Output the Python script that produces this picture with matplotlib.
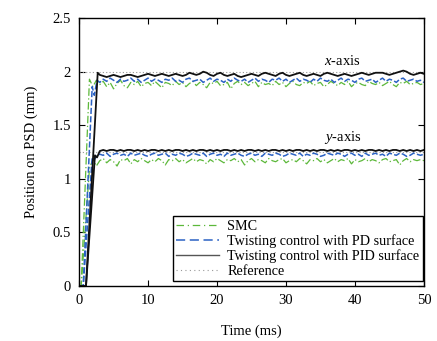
import numpy as np
import matplotlib
matplotlib.use("Agg")
import matplotlib.pyplot as plt

plt.rcParams['font.family'] = ['Liberation Serif', 'DejaVu Serif']
plt.rcParams['mathtext.fontset'] = 'custom'
plt.rcParams['mathtext.rm'] = 'Liberation Serif'
plt.rcParams['mathtext.it'] = 'Liberation Serif:italic'

# steady-state time grid (ms)
t_ss = np.arange(3.0, 50.01, 0.5)

# rise portions (time, value)
t_rise_smc = [0.0, 0.3, 1.5, 2.0, 2.5]
smc_x_rise = [0.0, 0.0, 1.93, 1.86, 1.92]
smc_y_rise = [0.0, 0.0, 1.10, 1.18, 1.12]
t_rise_pd = [0.0, 0.6, 1.9, 2.2, 2.6]
pd_x_rise = [0.0, 0.0, 1.86, 1.78, 1.92]
pd_y_rise = [0.0, 0.0, 1.20, 1.18, 1.22]
t_rise_pid = [0.0, 1.0, 2.7]
pid_x_rise = [0.0, 0.0, 1.99]
t_rise_pid_y = [0.0, 1.0, 2.3, 2.6]
pid_y_rise = [0.0, 0.0, 1.22, 1.20]

pid_x = [1.97, 1.96, 1.95, 1.96, 1.97, 1.96, 1.95, 1.96, 1.97, 1.97, 1.96,
         1.95, 1.96, 1.97, 1.98, 1.97, 1.96, 1.97, 1.98, 1.97, 1.96,
         1.97, 1.98, 1.97, 1.96, 1.97, 1.99, 1.98, 1.97, 1.98, 2.00,
         1.99, 1.97, 1.96, 1.98, 1.99, 1.97, 1.96, 1.97, 1.98, 1.96,
         1.95, 1.96, 1.97, 1.98, 1.97, 1.96, 1.98, 1.99, 1.98, 1.97,
         1.96, 1.98, 1.99, 1.97, 1.96, 1.97, 1.98, 1.99, 1.97, 1.96,
         1.97, 1.98, 1.97, 1.96, 1.98, 1.99, 1.98, 1.97, 1.96, 1.97,
         1.98, 1.97, 1.96, 1.97, 1.98, 1.99, 1.98, 1.97, 1.98, 1.99,
         1.99, 1.99, 1.98, 1.97, 1.98, 1.99, 2.00, 2.01, 2.00, 1.98,
         1.97, 1.98, 1.99, 1.98]

pd_x = [1.90, 1.93, 1.91, 1.94, 1.92, 1.90, 1.93, 1.91, 1.92, 1.94, 1.91,
        1.93, 1.90, 1.92, 1.94, 1.91, 1.93, 1.92, 1.90, 1.93, 1.92,
        1.94, 1.91, 1.92, 1.90, 1.93, 1.94, 1.91, 1.92, 1.93, 1.90,
        1.92, 1.94, 1.91, 1.93, 1.92, 1.90, 1.93, 1.91, 1.94, 1.92,
        1.91, 1.93, 1.90, 1.92, 1.94, 1.91, 1.93, 1.92, 1.90, 1.93,
        1.92, 1.94, 1.91, 1.93, 1.90, 1.92, 1.94, 1.91, 1.93, 1.92,
        1.90, 1.93, 1.91, 1.94, 1.92, 1.91, 1.93, 1.90, 1.92, 1.94,
        1.91, 1.93, 1.92, 1.90, 1.93, 1.94, 1.91, 1.92, 1.93, 1.90,
        1.92, 1.94, 1.91, 1.93, 1.92, 1.90, 1.93, 1.94, 1.91, 1.92,
        1.93, 1.91, 1.92, 1.90]

smc_x = [1.88, 1.91, 1.86, 1.90, 1.84, 1.89, 1.92, 1.87, 1.85, 1.90, 1.88,
         1.91, 1.86, 1.89, 1.90, 1.87, 1.91, 1.88, 1.85, 1.90, 1.89,
         1.87, 1.91, 1.88, 1.90, 1.86, 1.89, 1.91, 1.87, 1.90, 1.88,
         1.85, 1.90, 1.89, 1.91, 1.87, 1.88, 1.90, 1.84, 1.89, 1.91,
         1.88, 1.90, 1.87, 1.89, 1.91, 1.86, 1.90, 1.88, 1.89, 1.87,
         1.91, 1.88, 1.90, 1.86, 1.89, 1.91, 1.88, 1.87, 1.90, 1.89,
         1.91, 1.87, 1.89, 1.90, 1.86, 1.88, 1.91, 1.89, 1.87, 1.90,
         1.88, 1.91, 1.86, 1.89, 1.90, 1.88, 1.87, 1.91, 1.89, 1.88,
         1.90, 1.87, 1.89, 1.91, 1.88, 1.86, 1.90, 1.89, 1.91, 1.88,
         1.89, 1.90, 1.88, 1.89]

pid_y = [1.26, 1.27, 1.26, 1.27, 1.27, 1.26, 1.27, 1.26, 1.27, 1.27, 1.26,
         1.27, 1.26, 1.27, 1.26, 1.27, 1.27, 1.26, 1.27, 1.26, 1.27,
         1.26, 1.27, 1.27, 1.26, 1.27, 1.26, 1.27, 1.26, 1.27, 1.27,
         1.26, 1.27, 1.26, 1.27, 1.26, 1.27, 1.27, 1.26, 1.27, 1.26,
         1.27, 1.26, 1.27, 1.27, 1.26, 1.27, 1.26, 1.27, 1.26, 1.27,
         1.27, 1.26, 1.27, 1.26, 1.27, 1.26, 1.27, 1.27, 1.26, 1.27,
         1.26, 1.27, 1.26, 1.27, 1.27, 1.26, 1.27, 1.26, 1.27, 1.26,
         1.27, 1.27, 1.26, 1.27, 1.26, 1.27, 1.26, 1.27, 1.27, 1.26,
         1.27, 1.26, 1.27, 1.26, 1.27, 1.27, 1.26, 1.27, 1.26, 1.27,
         1.26, 1.27, 1.26, 1.27]

pd_y = [1.23, 1.22, 1.24, 1.21, 1.23, 1.24, 1.22, 1.23, 1.21, 1.24, 1.22,
        1.23, 1.24, 1.22, 1.21, 1.23, 1.24, 1.22, 1.23, 1.24, 1.21,
        1.23, 1.22, 1.24, 1.23, 1.21, 1.22, 1.24, 1.23, 1.22, 1.24,
        1.21, 1.23, 1.24, 1.22, 1.23, 1.21, 1.24, 1.22, 1.23, 1.24,
        1.22, 1.21, 1.23, 1.24, 1.22, 1.23, 1.21, 1.24, 1.23, 1.22,
        1.24, 1.23, 1.21, 1.22, 1.24, 1.23, 1.22, 1.24, 1.21, 1.23,
        1.22, 1.24, 1.23, 1.21, 1.22, 1.24, 1.23, 1.22, 1.24, 1.23,
        1.21, 1.23, 1.24, 1.22, 1.23, 1.21, 1.24, 1.22, 1.23, 1.24,
        1.22, 1.23, 1.21, 1.24, 1.23, 1.22, 1.24, 1.23, 1.21, 1.22,
        1.24, 1.23, 1.22, 1.23]

smc_y = [1.17, 1.19, 1.15, 1.18, 1.16, 1.12, 1.18, 1.17, 1.19, 1.14, 1.18,
         1.16, 1.19, 1.17, 1.15, 1.18, 1.16, 1.19, 1.17, 1.13, 1.18,
         1.17, 1.19, 1.16, 1.18, 1.15, 1.17, 1.19, 1.16, 1.18, 1.17,
         1.14, 1.18, 1.16, 1.19, 1.17, 1.15, 1.18, 1.17, 1.19, 1.16,
         1.18, 1.13, 1.17, 1.19, 1.16, 1.18, 1.17, 1.15, 1.19, 1.17,
         1.16, 1.18, 1.19, 1.15, 1.17, 1.18, 1.16, 1.19, 1.17, 1.14,
         1.18, 1.17, 1.19, 1.16, 1.18, 1.15, 1.17, 1.19, 1.16, 1.18,
         1.17, 1.19, 1.14, 1.18, 1.16, 1.17, 1.19, 1.16, 1.18, 1.17,
         1.15, 1.18, 1.19, 1.16, 1.17, 1.18, 1.13, 1.17, 1.19, 1.16,
         1.18, 1.17, 1.18, 1.17]

ref_t = [0.0, 50.0]
ref_x = [2.0, 2.0]
ref_y = [1.25, 1.25]

c_smc = '#5cb83a'
c_pd = '#2b62c4'
c_pid = '#111111'
c_ref = '#999999'

fig = plt.figure(figsize=(4.37, 3.41), dpi=100)
ax = fig.add_axes([0.181, 0.161, 0.789, 0.786])

ax.plot(ref_t, ref_x, color=c_ref, ls=(0, (1, 2)), lw=0.8)
ax.plot(ref_t, ref_y, color=c_ref, ls=(0, (1, 2)), lw=0.8)

def full(tr, vr, vs):
    return np.concatenate([tr, t_ss]), np.concatenate([vr, vs])

for tr, vr, vs in [(t_rise_smc, smc_x_rise, smc_x), (t_rise_smc, smc_y_rise, smc_y)]:
    tt, vv = full(tr, vr, vs)
    ax.plot(tt, vv, color=c_smc, ls=(0, (6, 2, 1, 2)), lw=0.9)
for tr, vr, vs in [(t_rise_pd, pd_x_rise, pd_x), (t_rise_pd, pd_y_rise, pd_y)]:
    tt, vv = full(tr, vr, vs)
    ax.plot(tt, vv, color=c_pd, ls=(0, (4, 1.5)), lw=1.1)
for tr, vr, vs in [(t_rise_pid, pid_x_rise, pid_x), (t_rise_pid_y, pid_y_rise, pid_y)]:
    tt, vv = full(tr, vr, vs)
    ax.plot(tt, vv, color=c_pid, ls='-', lw=1.3)

# legend proxies
h1, = ax.plot([], [], color=c_smc, ls=(0, (6, 3, 1, 3)), lw=0.9, label='SMC')
h2, = ax.plot([], [], color=c_pd, ls=(0, (6, 3)), lw=1.1, label='Twisting control with PD surface')
h3, = ax.plot([], [], color='#555555', ls='-', lw=1.0, label='Twisting control with PID surface')
h4, = ax.plot([], [], color=c_ref, ls=(0, (1, 3)), lw=0.8, label='Reference')
leg = ax.legend(handles=[h1, h2, h3, h4], loc='lower right', bbox_to_anchor=(0.997, 0.018),
                fontsize=10.2, frameon=True, fancybox=False, edgecolor='black',
                framealpha=1, borderpad=0.25, labelspacing=0.1, handlelength=3.0,
                handletextpad=0.6, borderaxespad=0.0)
leg.get_frame().set_linewidth(1.0)

ax.text(38.2, 2.10, r'$x$-axis', ha='center', va='center', fontsize=10.5)
ax.text(38.2, 1.39, r'$y$-axis', ha='center', va='center', fontsize=10.5)

ax.set_xlim(0, 50)
ax.set_ylim(0, 2.5)
ax.set_xticks([0, 10, 20, 30, 40, 50])
ax.set_yticks([0, 0.5, 1, 1.5, 2, 2.5])
ax.set_yticklabels(['0', '0.5', '1', '1.5', '2', '2.5'])
ax.tick_params(direction='in', top=True, right=True, length=4, width=0.8, labelsize=10.5, pad=6)
for s in ax.spines.values():
    s.set_linewidth(1.0)
ax.set_xlabel('Time (ms)', fontsize=10.5, labelpad=12)
ax.set_ylabel('Position on PSD (mm)', fontsize=10.5, labelpad=10)

fig.savefig('out.png', dpi=100)
